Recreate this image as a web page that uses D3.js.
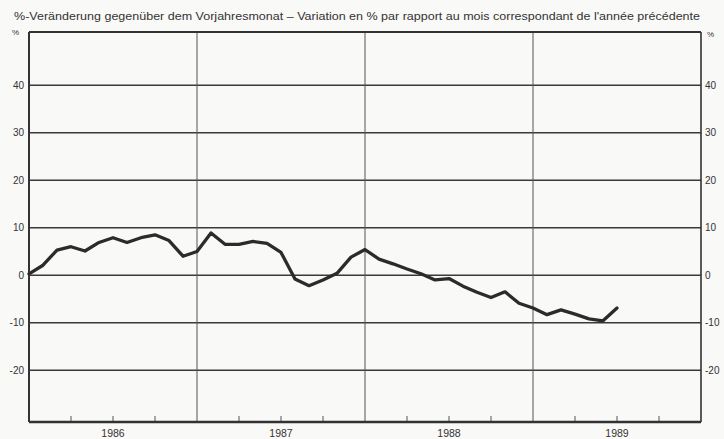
<!DOCTYPE html>
<html>
<head>
<meta charset="utf-8">
<script src="https://cdn.jsdelivr.net/npm/d3@7"></script>
<style>
  html, body { margin: 0; padding: 0; background: #f9f9f7; }
  svg { display: block; }
  text { font-family: "Liberation Sans", Arial, sans-serif; fill: #333; }
</style>
</head>
<body>
<svg id="chart" width="724" height="439"></svg>
<script>
// ---- data ----
const title = "%-Veränderung gegenüber dem Vorjahresmonat – Variation en % par rapport au mois correspondant de l'année précédente";
const years = ["1986", "1987", "1988", "1989"];
const yTicks = [40, 30, 20, 10, 0, -10, -20];
// monthly values, Jan 1986 .. Jul 1989
const values = [
  0.3, 2.1, 5.3, 6.0, 5.1, 6.9, 7.9, 6.9, 7.9, 8.5, 7.3, 4.0,
  5.0, 8.9, 6.5, 6.5, 7.1, 6.7, 4.8, -0.8, -2.2, -1.0, 0.4, 3.8,
  5.4, 3.4, 2.4, 1.3, 0.3, -1.0, -0.7, -2.3, -3.6, -4.7, -3.5, -5.9,
  -6.9, -8.3, -7.3, -8.2, -9.2, -9.6, -6.9
];

// ---- layout ----
const svg = d3.select("#chart");
const L = 29, R = 701, T = 32, B = 422;
const x = d3.scaleLinear().domain([0, 48]).range([L, R]);
const y = d3.scaleLinear().domain([-30.9, 51.2]).range([B, T]);

// title
svg.append("text")
  .attr("x", 14).attr("y", 20)
  .attr("font-size", 10.5)
  .attr("textLength", 686).attr("lengthAdjust", "spacingAndGlyphs")
  .text(title);

// horizontal gridlines
svg.append("g").selectAll("line").data(yTicks).join("line")
  .attr("x1", L).attr("x2", R)
  .attr("y1", d => y(d)).attr("y2", d => y(d))
  .attr("stroke", "#3a3a3a").attr("stroke-width", 1.4);

// year separators
svg.append("g").selectAll("line").data([12, 24, 36]).join("line")
  .attr("x1", d => x(d)).attr("x2", d => x(d))
  .attr("y1", T).attr("y2", B)
  .attr("stroke", "#555").attr("stroke-width", 1);

// quarter ticks
const qt = d3.range(0, 48, 3).filter(m => m % 12 !== 0);
svg.append("g").selectAll("line").data(qt).join("line")
  .attr("x1", d => x(d)).attr("x2", d => x(d))
  .attr("y1", B).attr("y2", B - 6)
  .attr("stroke", "#555").attr("stroke-width", 1);

// frame
svg.append("line").attr("x1", L).attr("x2", R).attr("y1", T).attr("y2", T)
  .attr("stroke", "#333").attr("stroke-width", 1.8);
svg.append("line").attr("x1", L).attr("x2", R).attr("y1", B).attr("y2", B)
  .attr("stroke", "#333").attr("stroke-width", 2.4);
svg.append("line").attr("x1", L).attr("x2", L).attr("y1", T).attr("y2", B)
  .attr("stroke", "#333").attr("stroke-width", 2);
svg.append("line").attr("x1", R).attr("x2", R).attr("y1", T).attr("y2", B)
  .attr("stroke", "#333").attr("stroke-width", 1.6);

// y labels left & right
svg.append("g").selectAll("text").data(yTicks).join("text")
  .attr("x", 24).attr("y", d => y(d) + 3.5)
  .attr("text-anchor", "end").attr("font-size", 10)
  .text(d => d);
svg.append("g").selectAll("text").data(yTicks).join("text")
  .attr("x", 705).attr("y", d => y(d) + 3.5)
  .attr("text-anchor", "start").attr("font-size", 10)
  .text(d => d);
svg.append("text").attr("x", 12).attr("y", 35).attr("font-size", 8).text("%");
svg.append("text").attr("x", 707).attr("y", 37).attr("font-size", 8).text("%");

// year labels
svg.append("g").selectAll("text").data(years).join("text")
  .attr("x", (d, i) => x(i * 12 + 6)).attr("y", 437)
  .attr("text-anchor", "middle").attr("font-size", 10.5)
  .text(d => d);

// data line
const line = d3.line().x((d, i) => x(i)).y(d => y(d));
svg.append("path").datum(values)
  .attr("d", line)
  .attr("fill", "none").attr("stroke", "#2b2b2b")
  .attr("stroke-width", 3.3).attr("stroke-linejoin", "round").attr("stroke-linecap", "round");
</script>
</body>
</html>
